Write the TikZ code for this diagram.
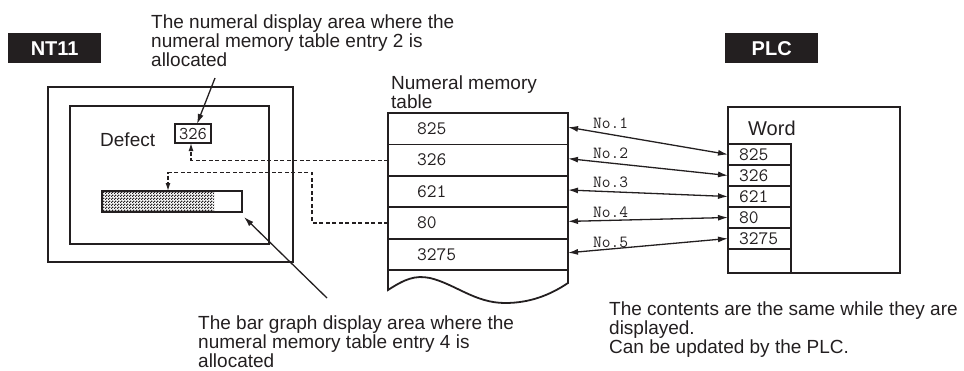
\documentclass[tikz,border=0pt]{standalone}
\usepackage{fontspec}
\setmainfont{Liberation Sans}
\usetikzlibrary{arrows.meta,patterns.meta,calc}
\definecolor{ink}{HTML}{231F20}
\tikzdeclarepattern{
  name=finecheck,
  type=uncolored,
  bottom left={(0pt,0pt)},
  top right={(3pt,3pt)},
  tile size={(3pt,3pt)},
  code={\pgfpathrectangle{\pgfpointorigin}{\pgfpoint{1.6pt}{1.6pt}}%
        \pgfpathrectangle{\pgfpoint{1.5pt}{1.5pt}}{\pgfpoint{1.6pt}{1.6pt}}%
        \pgfusepath{fill}}
}
\tikzset{
  lbl/.style={inner sep=0pt, align=left, text=ink, font=\fontsize{19}{16}\selectfont},
  tag/.style={fill=ink, text=white, inner sep=0pt, minimum width=93pt, minimum height=30pt,
              font=\fontsize{20}{20}\selectfont\bfseries, anchor=north west},
  frame/.style={draw=ink, line width=2pt, inner sep=0pt, outer sep=0pt, anchor=north west},
  trow/.style={draw=ink, line width=1.8pt, outer sep=0pt, minimum height=31.4pt,
               inner xsep=29pt, inner ysep=0pt, text width=122pt, align=left, anchor=north west,
               text=ink, font=\fontsize{19}{19}\selectfont\ttfamily},
  wrow/.style={draw=ink, line width=1.8pt, outer sep=0pt, minimum height=21pt,
               inner xsep=11pt, inner ysep=0pt, text width=41pt, align=left, anchor=north west,
               text=ink, font=\fontsize{19}{19}\selectfont\ttfamily},
  nolbl/.style={inner sep=0pt, anchor=base west, text=ink, font=\fontsize{17}{17}\selectfont\ttfamily},
  link/.style={draw=ink, line width=1.3pt, {Latex[length=10pt,width=6pt]}-{Latex[length=10pt,width=6pt]}},
  pointer/.style={draw=ink, line width=1.3pt, -{Latex[length=10pt,width=6pt]}},
  dashlink/.style={draw=ink, line width=1.2pt, dash pattern=on 4pt off 2.5pt, -{Latex[length=8pt,width=5pt]}},
}
\begin{document}
\begin{tikzpicture}[x=1pt,y=-1pt]
\useasboundingbox (0,0) rectangle (964,370);

% headers
\node[tag] (nt11) at (8,33) {NT11};
\node[tag] (plc) at (725,33) {PLC};

% NT11 screen
\node[frame, minimum width=245pt, minimum height=175pt] (screen) at (48,87) {};
\node[frame, minimum width=199pt, minimum height=138pt] (panel) at (70,106) {};
\node[lbl, anchor=base west] (defect) at (100,146) {Defect};
\node[frame, line width=1.5pt, minimum width=36pt, minimum height=19pt, text=ink,
      font=\fontsize{18}{18}\selectfont\ttfamily] (disp) at (175,124) {326};
\fill[pattern=finecheck, pattern color=ink] (102,191) rectangle (214,212);
\node[frame, minimum width=140pt, minimum height=21pt] (bar) at (102,191) {};

% numeral memory table
\node[lbl, anchor=north west] (tabtitle) at (391,76) {Numeral memory\\table};
\node[trow] (t1) at (388,113) {825};
\node[trow] (t2) at (388,144.4) {326};
\node[trow] (t3) at (388,175.8) {621};
\node[trow] (t4) at (388,207.2) {80};
\node[trow] (t5) at (388,238.6) {3275};
\draw[ink, line width=1.8pt] (t5.south west) -- (388,290)
  .. controls (405,279) and (415,275) .. (430,278)
  .. controls (455,284) and (475,303) .. (505,303)
  .. controls (530,303) and (550,295) .. (568,283) -- (t5.south east);

% PLC words
\node[frame, line width=1.8pt, minimum width=172pt, minimum height=166pt] (wordbox) at (728,107) {};
\node[lbl, anchor=base west, font=\fontsize{20}{20}\selectfont] (wordlbl) at (748,135) {Word};
\node[wrow] (w1) at (728,144) {825};
\node[wrow] (w2) at (728,165) {326};
\node[wrow] (w3) at (728,186) {621};
\node[wrow] (w4) at (728,207) {80};
\node[wrow] (w5) at (728,228) {3275};
\node[wrow, minimum height=24pt] (w6) at (728,249) {};

% links table <-> words
\draw[link] ([yshift=1.5pt]t1.east) -- (w1.west);
\draw[link] ([yshift=1.5pt]t2.east) -- (w2.west);
\draw[link] ([yshift=1.5pt]t3.east) -- (w3.west);
\draw[link] ([yshift=1.5pt]t4.east) -- (w4.west);
\draw[link] ([yshift=1.5pt]t5.east) -- (w5.west);
\node[nolbl] (n1) at (593,128) {No.1};
\node[nolbl] (n2) at (593,158) {No.2};
\node[nolbl] (n3) at (593,187) {No.3};
\node[nolbl] (n4) at (593,217) {No.4};
\node[nolbl] (n5) at (593,247) {No.5};

% dashed allocation lines
\draw[dashlink] (t2.west) -| ([xshift=-2pt]disp.south);
\coordinate (bend) at (312,172.7);
\draw[dashlink] (t4.west) -| (bend) -| ([xshift=66pt]bar.north west);

% notes
\node[lbl, anchor=north west] (topnote) at (151,15)
  {The numeral display area where the\\numeral memory table entry 2 is\\allocated};
\coordinate (topfoot) at (215,78);
\draw[pointer] (topfoot) -- ([xshift=4pt]disp.north);

\node[lbl, anchor=north west, font=\fontsize{19}{15.5}\selectfont] (botnote) at (198,316)
  {The bar graph display area where the\\numeral memory table entry 4 is\\allocated};
\coordinate (botfoot) at (327,298);
\draw[pointer] (botfoot) -- ([shift={(2pt,-5pt)}]bar.south east);

\node[lbl, anchor=north west] (plcnote) at (609,302)
  {The contents are the same while they are\\displayed.\\Can be updated by the PLC.};
\end{tikzpicture}
\end{document}
